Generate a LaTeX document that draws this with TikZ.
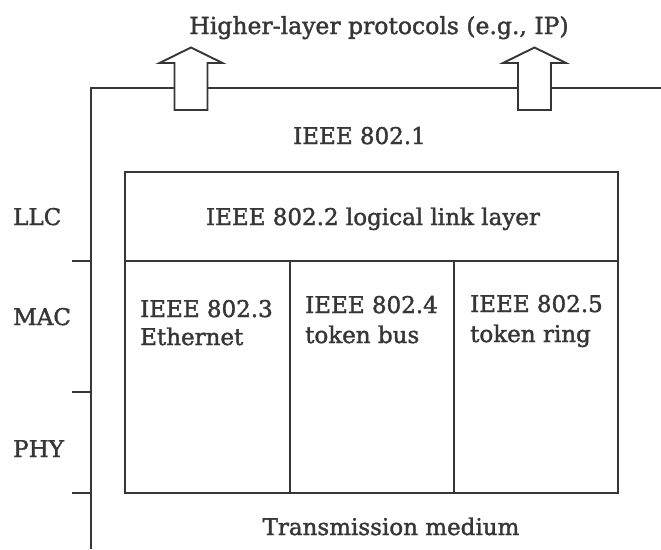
\documentclass[tikz,border=0pt]{standalone}
\usepackage{fontspec}
\setmainfont{DejaVu Serif}[RawFeature={embolden=1.6}]
\definecolor{ink}{HTML}{363636}
\tikzset{
  rule/.style={draw=ink, line width=1.9pt},
  lbl/.style={inner sep=0pt, text=ink, font=\fontsize{23}{27}\selectfont},
  ttl/.style={inner sep=0pt, text=ink, font=\fontsize{23.5}{27}\selectfont},
  blockarrow/.style={draw=ink, line width=1.9pt, fill=white, line join=miter}
}
\begin{document}
\begin{tikzpicture}[x=1pt, y=-1pt]
\useasboundingbox[fill=white] (0,0) rectangle (661,549);

% outer frame of the IEEE 802.1 region, open to the right and bottom
\draw[rule] (91,549) -- (91,88) -- (661,88);
% layer boundaries on the left
\draw[rule] (72,261) -- (91,261);
\draw[rule] (72,392) -- (91,392);
\draw[rule] (72,493) -- (91,493);

% block arrows to the higher layers
\foreach \cx in {191,534.5}{
  \draw[blockarrow] (\cx-16.5,110) -- (\cx-16.5,63) -- (\cx-31.5,63) -- (\cx,47.5)
    -- (\cx+31.5,63) -- (\cx+16.5,63) -- (\cx+16.5,110) -- cycle;
}

% IEEE 802 standards stack
\draw[rule] (125,172) rectangle (618,493);
\draw[rule] (125,261) -- (618,261);
\draw[rule] (290,261) -- (290,493);
\draw[rule] (454,261) -- (454,493);

% labels
\node[ttl, anchor=base] (higher) at (379,34) {Higher-layer protocols (e.g., IP)};
\node[lbl, anchor=base] (d1) at (359.5,144) {IEEE 802.1};
\node[lbl, anchor=base] (d2) at (373,225) {IEEE 802.2 logical link layer};
\node[lbl, anchor=base west] (llc) at (13,225) {LLC};
\node[lbl, anchor=base west] (mac) at (13,325) {MAC};
\node[lbl, anchor=base west] (phy) at (13,457) {PHY};
\node[lbl, anchor=base west] (d3a) at (140,317) {IEEE 802.3};
\node[lbl, anchor=base west] (d3b) at (140,345) {Ethernet};
\node[lbl, anchor=base west] (d4a) at (305,313) {IEEE 802.4};
\node[lbl, anchor=base west] (d4b) at (305,343) {token bus};
\node[lbl, anchor=base west] (d5a) at (470,312) {IEEE 802.5};
\node[lbl, anchor=base west] (d5b) at (470,342) {token ring};
\node[lbl, anchor=base] (medium) at (391,535) {Transmission medium};
\end{tikzpicture}
\end{document}
